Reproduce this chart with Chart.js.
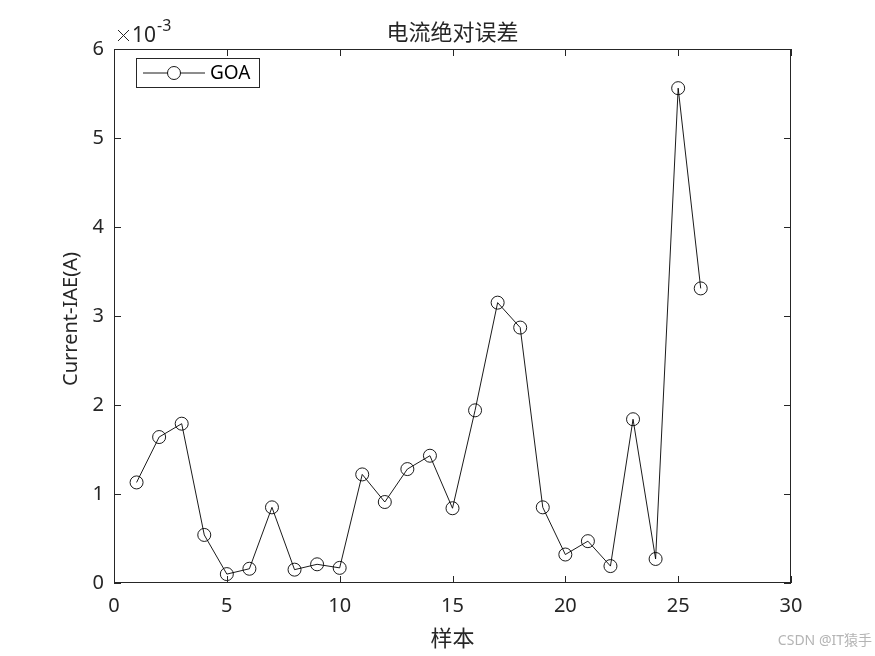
<!DOCTYPE html>
<html>
<head>
<meta charset="utf-8">
<script src="https://cdn.jsdelivr.net/npm/chart.js@4"></script>
<style>
  html, body { margin: 0; padding: 0; background: #fff; }
  #wrap { width: 875px; height: 656px; position: relative; }
</style>
</head>
<body>
<div id="wrap"><canvas id="chart" width="875" height="656"></canvas></div>
<script>
// ---- data ----
const samples = [1, 2, 3, 4, 5, 6, 7, 8, 9, 10, 11, 12, 13, 14, 15, 16, 17, 18, 19, 20, 21, 22, 23, 24, 25, 26];
const goaIAE = [0.00113, 0.00164, 0.00179, 0.00054, 0.00010, 0.00016, 0.00085, 0.00015, 0.00021, 0.00017,
                0.00122, 0.00091, 0.00128, 0.00143, 0.00084, 0.00194, 0.00315, 0.00287, 0.00085, 0.00032,
                0.00047, 0.00019, 0.00184, 0.00027, 0.00556, 0.00331];
const xTicks = [0, 5, 10, 15, 20, 25, 30];
const yTicks = [0, 0.001, 0.002, 0.003, 0.004, 0.005, 0.006];

const titleText = "电流绝对误差";
const xLabel = "样本";
const yLabel = "Current-IAE(A)";
const seriesName = "GOA";

const FONT = "'Noto Sans', 'Noto Sans CJK SC', sans-serif";
const CJK = "'Noto Sans CJK SC', sans-serif";
const INK = "#262626";

// box, inward ticks, titles, exponent, legend
const decoPlugin = {
  id: "deco",
  afterDraw(chart) {
    const ctx = chart.ctx;
    const a = chart.chartArea;
    const xs = chart.scales.x, ys = chart.scales.y;
    ctx.save();
    ctx.strokeStyle = INK;
    ctx.lineWidth = 1;
    ctx.strokeRect(a.left + 0.5, a.top + 0.5, a.right - a.left - 1, a.bottom - a.top - 1);
    const tl = 7;
    ctx.beginPath();
    xTicks.forEach(v => {
      const px = Math.round(xs.getPixelForValue(v)) + 0.5;
      ctx.moveTo(px, a.bottom); ctx.lineTo(px, a.bottom - tl);
      ctx.moveTo(px, a.top); ctx.lineTo(px, a.top + tl);
    });
    yTicks.forEach(v => {
      const py = Math.round(ys.getPixelForValue(v)) + 0.5;
      ctx.moveTo(a.left, py); ctx.lineTo(a.left + tl, py);
      ctx.moveTo(a.right, py); ctx.lineTo(a.right - tl, py);
    });
    ctx.stroke();

    ctx.fillStyle = INK;
    // title
    ctx.textAlign = "center";
    ctx.textBaseline = "middle";
    ctx.font = "22px " + CJK;
    ctx.fillText(titleText, (a.left + a.right) / 2, 32);
    // x label
    ctx.fillText(xLabel, (a.left + a.right) / 2, 638);
    // y label
    ctx.save();
    ctx.translate(71, (a.top + a.bottom) / 2 + 3);
    ctx.rotate(-Math.PI / 2);
    ctx.font = "20px " + FONT;
    ctx.fillText(yLabel, 0, 0);
    ctx.restore();

    // exponent: thin cross drawn as strokes, then 10 and superscript
    ctx.strokeStyle = INK;
    ctx.lineWidth = 1;
    ctx.beginPath();
    ctx.moveTo(118, 30); ctx.lineTo(129, 41);
    ctx.moveTo(129, 30); ctx.lineTo(118, 41);
    ctx.stroke();
    ctx.textAlign = "left";
    ctx.textBaseline = "alphabetic";
    ctx.font = "21px " + FONT;
    ctx.fillText("10", 132, 42);
    const w = ctx.measureText("10").width;
    ctx.font = "16px " + FONT;
    ctx.fillText("-3", 132 + w + 1, 31);

    // legend
    const lx = 136, ly = 58, lw = 123, lh = 29;
    ctx.fillStyle = "#fff";
    ctx.fillRect(lx, ly, lw, lh);
    ctx.strokeStyle = INK;
    ctx.strokeRect(lx + 0.5, ly + 0.5, lw, lh);
    const my = ly + lh / 2 + 0.5;
    ctx.strokeStyle = "#000";
    ctx.lineWidth = 0.9;
    ctx.beginPath();
    ctx.moveTo(143, my); ctx.lineTo(205, my);
    ctx.stroke();
    ctx.beginPath();
    ctx.arc(174, my, 6.5, 0, Math.PI * 2);
    ctx.fillStyle = "#fff";
    ctx.fill();
    ctx.stroke();
    ctx.fillStyle = "#000";
    ctx.font = "19px " + FONT;
    ctx.textBaseline = "middle";
    ctx.fillText(seriesName, 210, my + 1);

    // watermark
    ctx.fillStyle = "#b4b4b4";
    ctx.font = "14px " + FONT;
    ctx.textAlign = "right";
    ctx.fillText("CSDN @IT猿手", 872, 641);
    ctx.restore();
  }
};

new Chart(document.getElementById("chart"), {
  type: "line",
  data: {
    datasets: [{
      label: seriesName,
      data: samples.map((s, i) => ({ x: s, y: goaIAE[i] })),
      borderColor: "#000",
      borderWidth: 0.9,
      backgroundColor: "rgba(0,0,0,0)",
      pointStyle: "circle",
      pointRadius: 6.5,
      pointBorderColor: "#000",
      pointBorderWidth: 0.9,
      pointBackgroundColor: "rgba(0,0,0,0)",
      tension: 0,
      fill: false
    }]
  },
  options: {
    responsive: false,
    animation: false,
    devicePixelRatio: 1,
    layout: { padding: { left: 0, top: 49, right: 84, bottom: 0 } },
    plugins: { legend: { display: false }, title: { display: false }, tooltip: { enabled: false } },
    scales: {
      x: {
        type: "linear",
        min: 0, max: 30,
        afterFit: s => { s.height = 73; },
        afterBuildTicks: s => { s.ticks = xTicks.map(v => ({ value: v })); },
        grid: { display: false, drawTicks: false },
        border: { display: false },
        ticks: { color: INK, font: { family: FONT, size: 20 }, padding: 11, maxRotation: 0 }
      },
      y: {
        min: 0, max: 0.006,
        afterFit: s => { s.width = 114; },
        afterBuildTicks: s => { s.ticks = yTicks.map(v => ({ value: v })); },
        grid: { display: false, drawTicks: false },
        border: { display: false },
        ticks: {
          color: INK, font: { family: FONT, size: 20 }, padding: 10,
          callback: v => String(Math.round(v * 1000))
        }
      }
    }
  },
  plugins: [decoPlugin]
});
</script>
</body>
</html>
